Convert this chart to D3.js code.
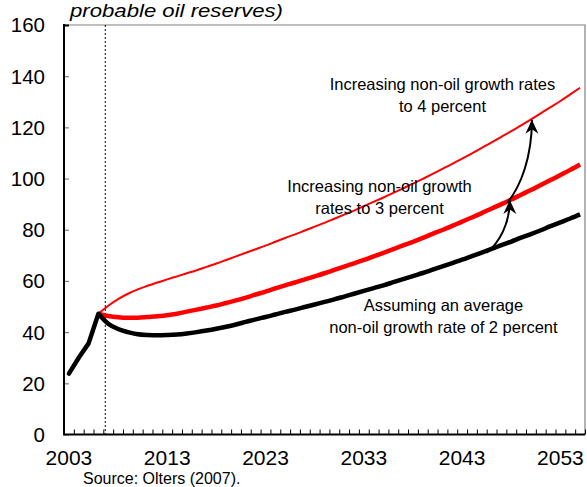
<!DOCTYPE html>
<html>
<head>
<meta charset="utf-8">
<script src="https://cdn.jsdelivr.net/npm/d3@7"></script>
<style>
  html, body { margin: 0; padding: 0; background: #fff; }
  svg { display: block; font-family: "Liberation Sans", Arial, sans-serif; }
</style>
</head>
<body>
<svg id="chart" width="587" height="487"></svg>
<script>
// ---- data ----
const histYears = [2003, 2004, 2005, 2006];
const histValues = [23.8, 30.0, 35.6, 47.2];

const projYears = [2006, 2007, 2008, 2009, 2010, 2011, 2012, 2013, 2014, 2015,
  2016, 2017, 2018, 2019, 2020, 2021, 2022, 2023, 2024, 2025,
  2026, 2027, 2028, 2029, 2030, 2031, 2032, 2033, 2034, 2035,
  2036, 2037, 2038, 2039, 2040, 2041, 2042, 2043, 2044, 2045,
  2046, 2047, 2048, 2049, 2050, 2051, 2052, 2053, 2054, 2055];

const growth2 = [47.2, 43.3, 41.2, 40.0, 39.2, 38.9, 38.8, 38.9, 39.1, 39.5,
  40.0, 40.6, 41.3, 42.1, 43.0, 44.0, 45.0, 45.9, 46.9, 47.9,
  48.8, 49.8, 50.8, 51.8, 52.8, 53.9, 55.0, 56.1, 57.2, 58.3,
  59.5, 60.7, 61.9, 63.1, 64.4, 65.7, 67.0, 68.3, 69.7, 71.1,
  72.5, 74.0, 75.4, 76.9, 78.3, 79.8, 81.4, 82.9, 84.4, 86.0];

const growth3 = [47.2, 46.3, 45.8, 45.6, 45.6, 45.9, 46.2, 46.6, 47.2, 48.0,
  48.8, 49.6, 50.4, 51.4, 52.4, 53.5, 54.7, 55.8, 57.1, 58.3,
  59.4, 60.6, 61.8, 63.0, 64.3, 65.6, 66.9, 68.2, 69.6, 71.0,
  72.4, 73.9, 75.3, 76.8, 78.4, 79.9, 81.5, 83.2, 84.8, 86.5,
  88.3, 90.0, 91.8, 93.7, 95.5, 97.5, 99.4, 101.4, 103.4, 105.5];

const growth4 = [47.2, 50.3, 52.9, 55.0, 56.7, 58.1, 59.4, 60.6, 61.8, 63.0,
  64.2, 65.5, 66.8, 68.2, 69.6, 71.0, 72.4, 73.8, 75.3, 76.8,
  78.2, 79.7, 81.2, 82.7, 84.3, 85.9, 87.5, 89.2, 90.9, 92.6,
  94.4, 96.2, 98.0, 99.9, 101.8, 103.8, 105.7, 107.8, 109.8, 112.0,
  114.1, 116.3, 118.5, 120.8, 123.1, 125.5, 127.9, 130.3, 132.9, 135.5];

const yTicks = [0, 20, 40, 60, 80, 100, 120, 140, 160];
const xLabelYears = [2003, 2013, 2023, 2033, 2043, 2053];
const firstYear = 2003, lastYear = 2055;
const cutoffYear = 2006.7;

const titleText = "probable oil reserves)";
const sourceText = "Source: Olters (2007).";

// annotations: label lines anchored at [year, value]
const labels = [
  { year: 2041.0, value: 134.6, lines: ["Increasing non-oil growth rates", "to 4 percent"] },
  { year: 2034.6, value: 94.9, lines: ["Increasing non-oil growth", "rates to 3 percent"] },
  { year: 2041.1, value: 48.1, lines: ["Assuming an average", "non-oil growth rate of 2 percent"] }
];
// arrows: from [year, value] to [year, value]
const arrows = [
  { from: [2045.5, 71.0], to: [2047.85, 91.6] },
  { from: [2047.6, 90.6], to: [2050.1, 123.0] }
];

// ---- layout ----
const svg = d3.select("#chart");
const mLeft = 64, mRight = 585, mTop = 25, mBottom = 434.5;

const x = d3.scaleLinear().domain([firstYear - 0.5, lastYear + 0.5]).range([mLeft, mRight]);
const y = d3.scaleLinear().domain([0, 160]).range([mBottom, mTop]);

// frame (top and right, grey)
svg.append("path")
  .attr("d", `M${mLeft},${mTop}H${mRight}V${mBottom}`)
  .attr("fill", "none").attr("stroke", "#808080").attr("stroke-width", 1.2);

// y axis
const yAxis = d3.axisRight(y).tickValues(yTicks).tickSize(5).tickFormat("");
const gy = svg.append("g").attr("transform", `translate(${mLeft},0)`).call(yAxis);
gy.select(".domain").remove();
gy.selectAll(".tick line")
  .attr("stroke", d => d === 160 ? "#000" : "#808080")
  .attr("stroke-width", d => d === 160 ? 2 : 1.2);
svg.append("line").attr("x1", mLeft).attr("x2", mLeft).attr("y1", mTop - 1).attr("y2", mBottom + 0.5)
  .attr("stroke", "#000").attr("stroke-width", 2);
svg.selectAll(".ylab").data(yTicks).enter().append("text")
  .attr("class", "ylab")
  .attr("x", 45).attr("y", d => y(d)).attr("dy", "0.36em")
  .attr("text-anchor", "end").attr("font-size", 20.5).attr("fill", "#000")
  .text(d => d);

// x axis: tick marks at year boundaries
const boundaries = d3.range(firstYear - 0.5, lastYear + 1, 1);
const xAxis = d3.axisTop(x).tickValues(boundaries).tickSize(5).tickFormat("");
const gx = svg.append("g").attr("transform", `translate(0,${mBottom})`).call(xAxis);
gx.select(".domain").remove();
gx.selectAll(".tick line").attr("stroke", "#000").attr("stroke-width", 1);
svg.append("line").attr("x1", mLeft - 1).attr("x2", mRight).attr("y1", mBottom).attr("y2", mBottom)
  .attr("stroke", "#000").attr("stroke-width", 1.8);
svg.selectAll(".xlab").data(xLabelYears).enter().append("text")
  .attr("class", "xlab")
  .attr("x", d => x(d)).attr("y", 464.5)
  .attr("text-anchor", "middle").attr("font-size", 21).attr("fill", "#000")
  .text(d => d);

// dashed cutoff line
svg.append("line")
  .attr("x1", x(cutoffYear)).attr("x2", x(cutoffYear))
  .attr("y1", mTop).attr("y2", mBottom)
  .attr("stroke", "#000").attr("stroke-width", 1).attr("stroke-dasharray", "2,2");

// lines
const line = d3.line().x(d => x(d[0])).y(d => y(d[1])).curve(d3.curveMonotoneX);
const zip = (xs, vs) => xs.map((v, i) => [v, vs[i]]);

svg.append("path").datum(zip(projYears, growth4)).attr("d", line)
  .attr("fill", "none").attr("stroke", "#ff0000").attr("stroke-width", 2);
svg.append("path").datum(zip(projYears, growth3)).attr("d", line)
  .attr("fill", "none").attr("stroke", "#ff0000").attr("stroke-width", 4.5).attr("stroke-linejoin", "round");
svg.append("path").datum(zip(projYears, growth2)).attr("d", line)
  .attr("fill", "none").attr("stroke", "#000").attr("stroke-width", 4.5).attr("stroke-linejoin", "round");
svg.append("path").datum(zip(histYears, histValues)).attr("d", d3.line().x(d => x(d[0])).y(d => y(d[1])))
  .attr("fill", "none").attr("stroke", "#000").attr("stroke-width", 4.5)
  .attr("stroke-linejoin", "round").attr("stroke-linecap", "round");

// arrows
const defs = svg.append("defs");
defs.append("marker").attr("id", "head")
  .attr("markerUnits", "userSpaceOnUse")
  .attr("viewBox", "-15 -8 17 16").attr("refX", 0).attr("refY", 0)
  .attr("markerWidth", 17).attr("markerHeight", 16).attr("orient", "auto")
  .append("path").attr("d", "M0,0 L-14,-6.5 L-9.5,0 L-14,6.5 Z").attr("fill", "#000");

arrows.forEach(a => {
  const x0 = x(a.from[0]), y0 = y(a.from[1]);
  const x1 = x(a.to[0]), y1 = y(a.to[1]);
  const dx = x1 - x0, dy = y1 - y0;
  const p = d3.path();
  p.moveTo(x0, y0);
  p.bezierCurveTo(x0 + dx * 0.55, y0 + dy * 0.2, x1, y0 + dy * 0.55, x1, y1);
  svg.append("path").attr("d", p.toString())
    .attr("fill", "none").attr("stroke", "#000").attr("stroke-width", 2)
    .attr("marker-end", "url(#head)");
});

// annotation labels
labels.forEach(l => {
  const t = svg.append("text").attr("text-anchor", "middle").attr("font-size", 16.5).attr("fill", "#000");
  l.lines.forEach((s, i) => {
    t.append("tspan").attr("x", x(l.year)).attr("y", y(l.value) + i * 22).text(s);
  });
});

// title fragment and source
svg.append("text").attr("x", 70).attr("y", 16.5)
  .attr("font-size", 18).attr("font-style", "italic").attr("fill", "#000")
  .attr("textLength", 213).attr("lengthAdjust", "spacingAndGlyphs")
  .text(titleText);
svg.append("text").attr("x", 83).attr("y", 483.5)
  .attr("font-size", 16).attr("fill", "#000")
  .text(sourceText);
</script>
</body>
</html>
